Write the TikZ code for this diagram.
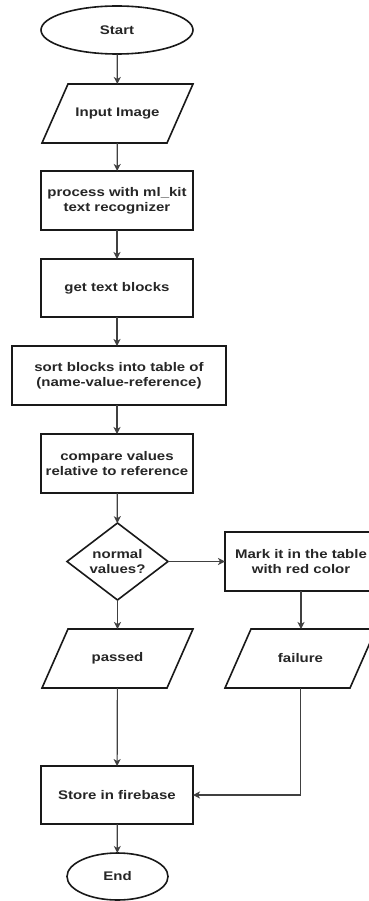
\documentclass[tikz,border=0pt]{standalone}
\usepackage{fontspec}
\setmainfont{Liberation Sans}[FakeStretch=1.2]
\usetikzlibrary{shapes.geometric,arrows.meta}
\begin{document}
\begin{tikzpicture}[x=1pt,y=-1pt,
  every node/.style={font=\fontsize{12.5}{15}\selectfont\bfseries, text=black!85, align=center, inner sep=0pt, outer sep=0pt, line width=1.6pt, draw=black!90},
  term/.style={ellipse},
  proc/.style={rectangle, minimum width=152pt, minimum height=59pt},
  io/.style={rectangle, draw=none, minimum width=151pt, minimum height=59pt},
  iobox/.style={line width=1.6pt, draw=black!90, line join=miter},
  dec/.style={diamond, minimum width=101pt, minimum height=77pt, aspect=1.31},
  conn/.style={line width=1.2pt, draw=black!75, -{Stealth[length=7pt,width=7pt,inset=2pt]}}
]
\useasboundingbox (0,0) rectangle (368,901);
\fill[white] (0,0) rectangle (368,901);
\node[term, minimum width=152pt, minimum height=48pt] (start) at (117,30) {Start};
\node[io] (input) at (117.5,113.5) {Input Image};
\node[proc] (process) at (117,200.5) {process with ml\_kit\\text recognizer};
\node[proc, minimum height=58pt] (get) at (117,288) {get text blocks};
\node[proc, minimum width=214pt] (sort) at (119,375.5) {sort blocks into table of\\(name-value-reference)};
\node[proc] (compare) at (117,463.5) {compare values\\relative to reference};
\node[dec] (decide) at (117.5,561.5) {normal\\values?};
\node[proc] (mark) at (301,561.5) {Mark it in the table\\with red color};
\node[io] (passed) at (117.5,658.5) {passed};
\node[io] (failure) at (300.5,658.5) {failure};
\node[proc, minimum height=58pt] (store) at (117,795) {Store in firebase};
\node[term, minimum width=101pt, minimum height=47pt] (end) at (117.5,876.5) {End};
\foreach \n in {input,passed,failure}{
  \draw[iobox] ([xshift=26pt]\n.north west) -- (\n.north east) -- ([xshift=-26pt]\n.south east) -- (\n.south west) -- cycle;
}
\draw[conn] (start) -- (input);
\draw[conn] (input) -- (process);
\draw[conn] (process) -- (get);
\draw[conn] (get.south) -- (get.south |- sort.north);
\draw[conn] (sort.south -| compare.north) -- (compare.north);
\draw[conn] (compare) -- (decide);
\draw[conn] (decide) -- (mark);
\draw[conn] (decide) -- (passed);
\draw[conn] (mark.south) -- (mark.south |- failure.north);
\draw[conn] (passed) -- (store);
\draw[conn] (failure.south) |- (store.east);
\draw[conn] (store) -- (end);
\end{tikzpicture}
\end{document}
